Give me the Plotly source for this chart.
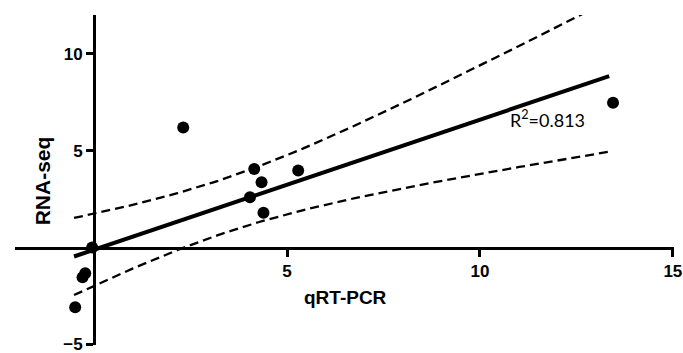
import numpy as np
import plotly.graph_objects as go

# Data
qrt_pcr = [2.31, -0.30, -0.23, -0.49, -0.05, 4.15, 4.34, 4.04, 4.39, 5.29, 13.45]
rna_seq = [6.20, -1.54, -1.33, -3.08, 0.00, 4.05, 3.37, 2.60, 1.80, 3.97, 7.47]
x_ticks = [5, 10, 15]
y_ticks = [-5, 5, 10]
r2_label = "R<sup>2</sup>=0.813"
fit_x_range = [-0.52, 13.35]
t_crit = 2.262  # t(0.975, df=9)

X_RANGE = [-2.05, 15.03]
Y_RANGE = [-5.03, 12]

# Linear regression with 95% confidence band
x = np.array(qrt_pcr)
y = np.array(rna_seq)
n = len(x)
slope, intercept = np.polyfit(x, y, 1)
resid = y - (slope * x + intercept)
s = np.sqrt(np.sum(resid ** 2) / (n - 2))
sxx = np.sum((x - x.mean()) ** 2)
xf = np.linspace(fit_x_range[0], fit_x_range[1], 120)
yf = slope * xf + intercept
se = s * np.sqrt(1 / n + (xf - x.mean()) ** 2 / sxx)
upper = yf + t_crit * se
lower = yf - t_crit * se

fig = go.Figure()
dash_style = dict(color="black", width=2.3, dash="9px,5px")
fig.add_trace(go.Scatter(x=xf, y=upper, mode="lines", line=dash_style, hoverinfo="skip"))
fig.add_trace(go.Scatter(x=xf, y=lower, mode="lines", line=dash_style, hoverinfo="skip"))
fig.add_trace(go.Scatter(x=xf, y=yf, mode="lines", line=dict(color="black", width=4)))
fig.add_trace(go.Scatter(x=qrt_pcr, y=rna_seq, mode="markers",
                         marker=dict(color="black", size=12), cliponaxis=False))

tick_font = dict(family="Liberation Sans, Arial, sans-serif", size=17, color="black", weight="bold")

fig.update_layout(
    width=683, height=353,
    margin=dict(l=15, r=9, t=15, b=8, autoexpand=False),
    paper_bgcolor="white", plot_bgcolor="white",
    showlegend=False,
    xaxis=dict(range=X_RANGE, showgrid=False, zeroline=False, showline=True,
               linecolor="black", linewidth=3, anchor="free", automargin=False,
               position=(0 - Y_RANGE[0]) / (Y_RANGE[1] - Y_RANGE[0]),
               tickvals=x_ticks, ticks="outside", ticklen=7, tickwidth=3,
               tickcolor="black", tickfont=tick_font, ticklabeloverflow="allow"),
    yaxis=dict(range=Y_RANGE, showgrid=False, zeroline=False, showline=True,
               linecolor="black", linewidth=3, anchor="free", automargin=False,
               position=(0 - X_RANGE[0]) / (X_RANGE[1] - X_RANGE[0]),
               tickvals=y_ticks, ticks="outside", ticklen=7, tickwidth=3,
               tickcolor="black", tickfont=tick_font, ticklabeloverflow="allow"),
    annotations=[
        dict(text="qRT-PCR", xref="paper", yref="paper", x=0.501, y=0.145,
             showarrow=False, xanchor="center", yanchor="middle",
             font=dict(family="Liberation Sans, Arial, sans-serif", size=19,
                       color="black", weight="bold")),
        dict(text="RNA-seq", xref="paper", yref="paper", x=0.043, y=0.497,
             showarrow=False, xanchor="center", yanchor="middle", textangle=-90,
             font=dict(family="Liberation Sans, Arial, sans-serif", size=21,
                       color="black", weight="bold")),
        dict(text=r2_label, x=11.74, y=6.65, xref="x", yref="y",
             showarrow=False, xanchor="center", yanchor="middle",
             font=dict(family="Lato, sans-serif", size=18, color="black")),
    ],
)

fig.write_html("out.html", config={"displayModeBar": False},
               post_script="document.body.style.margin='0';document.body.style.overflow='hidden';")
